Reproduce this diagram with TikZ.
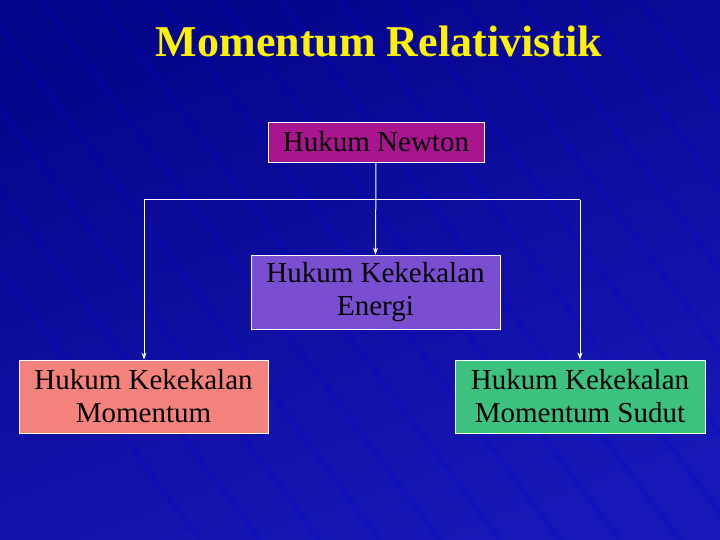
\documentclass[tikz,border=0pt]{standalone}
\usepackage{fontspec}
\setmainfont{Liberation Serif}
\usetikzlibrary{arrows.meta}
\definecolor{bgA}{HTML}{05058A}
\definecolor{bgB}{HTML}{1818B8}
\definecolor{newtonc}{HTML}{A8158F}
\definecolor{energic}{HTML}{7A4ED0}
\definecolor{momc}{HTML}{F4837D}
\definecolor{sudutc}{HTML}{3CC27E}
\begin{document}
\begin{tikzpicture}[x=1pt,y=-1pt,
  box/.style={draw=white,line width=0.8pt,inner sep=0pt,font=\fontsize{29}{33}\selectfont,align=center,text=black},
  conn/.style={draw=white,line width=1pt},
  arr/.style={conn,-{Stealth[length=7pt,width=5pt]}}]
\shade[top color=bgA,bottom color=bgB,shading angle=20] (0,0) rectangle (720,540);
\useasboundingbox (0,0) rectangle (720,540);
\foreach \i in {0,...,14}{\draw[blue!60!bgA,opacity=0.2,line width=6pt] (\i*60-200,0) -- (\i*60+200,540);}
\node (title) [text=yellow,font=\bfseries\fontsize{44}{46}\selectfont] at (379,42) {Momentum Relativistik};
\node (n) [box,fill=newtonc,minimum width=216,minimum height=40] at (376,142) {Hukum Newton};
\node (e) [box,fill=energic,minimum width=249,minimum height=74] at (375.5,292) {Hukum Kekekalan\\Energi};
\node (m) [box,fill=momc,minimum width=249,minimum height=73] at (143.5,396.5) {Hukum Kekekalan\\Momentum};
\node (s) [box,fill=sudutc,minimum width=250,minimum height=73] at (580,396.5) {Hukum Kekekalan\\Momentum Sudut};
\coordinate (l) at (144,200);
\coordinate (r) at (580,200);
\draw[arr] (n.south) -- (e.north);
\draw[conn] (l) -- (r);
\draw[arr] (l) -- (l |- m.north);
\draw[arr] (r) -- (r |- s.north);
\end{tikzpicture}
\end{document}
